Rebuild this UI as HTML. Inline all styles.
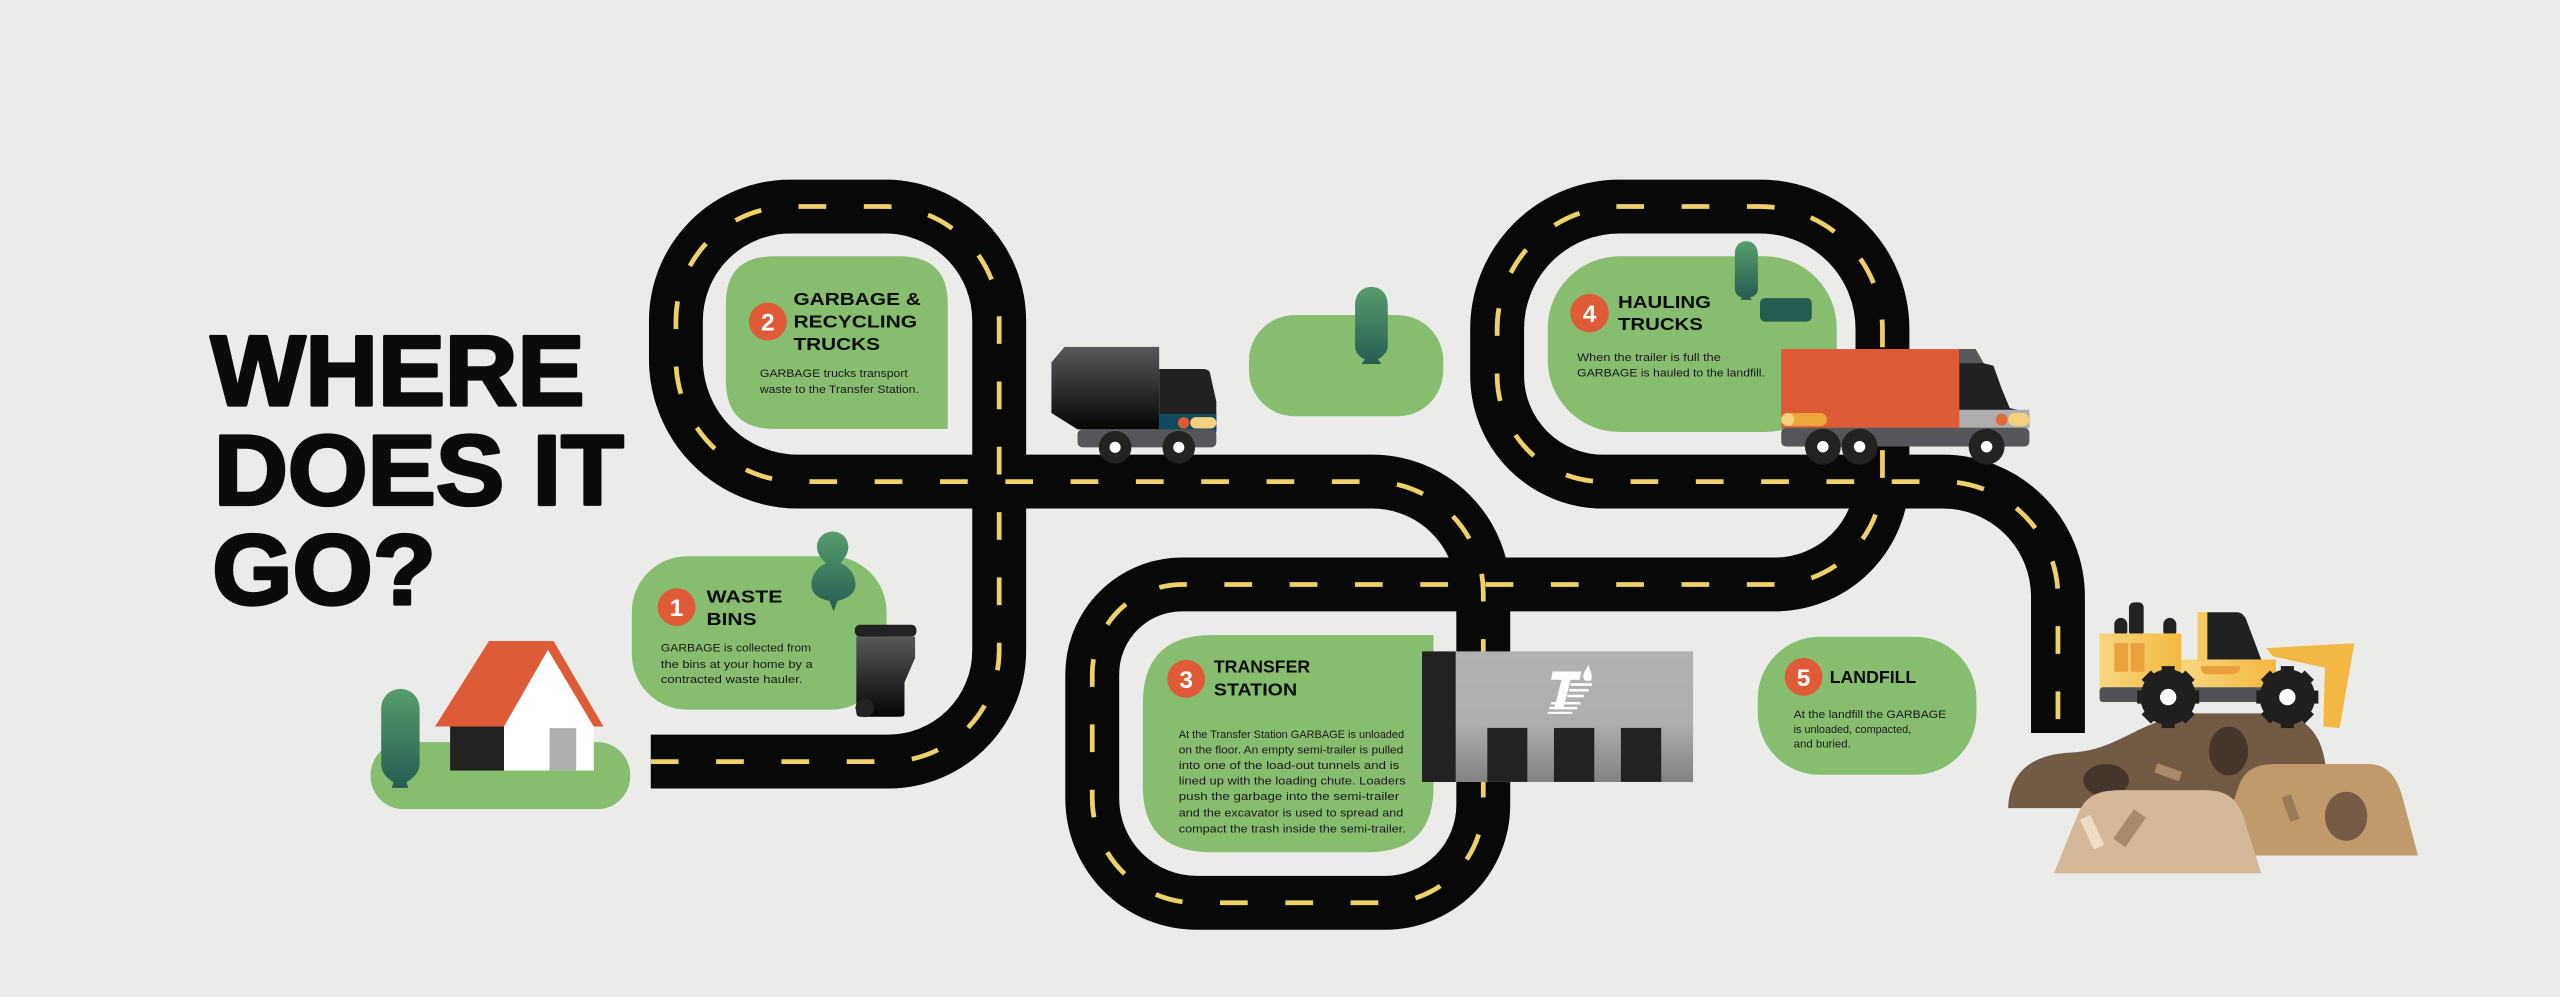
<!DOCTYPE html>
<html><head><meta charset="utf-8"><style>
html,body{margin:0;padding:0;background:#ebecea;}
svg{display:block;}
.h{font-family:"Liberation Sans",sans-serif;font-weight:bold;fill:#0b0b0b;}
.t{font-family:"Liberation Sans",sans-serif;fill:#1a1a1a;font-size:6.6px;}
.n{font-family:"Liberation Sans",sans-serif;font-weight:bold;fill:#fff;font-size:15px;text-anchor:middle;}
</style></head><body>
<svg width="2560" height="997" viewBox="0 0 1568 610.7" preserveAspectRatio="none" xmlns="http://www.w3.org/2000/svg">
<defs>
<linearGradient id="tree" x1="0" y1="0" x2="0" y2="1"><stop offset="0" stop-color="#579d6d"/><stop offset="1" stop-color="#265c53"/></linearGradient>
<linearGradient id="dark" x1="0" y1="0" x2="0" y2="1"><stop offset="0" stop-color="#58595b"/><stop offset="1" stop-color="#050505"/></linearGradient>
<linearGradient id="bld" x1="0" y1="0" x2="0" y2="1"><stop offset="0" stop-color="#b0b1b0"/><stop offset="0.55" stop-color="#adaead"/><stop offset="1" stop-color="#828282"/></linearGradient>
<linearGradient id="yel" x1="0" y1="0" x2="1" y2="0"><stop offset="0" stop-color="#f8d67f"/><stop offset="1" stop-color="#f3b840"/></linearGradient>
</defs>
<rect width="1568" height="610.7" fill="#ebecea"/>

<!-- title -->
<g stroke="#0b0b0b" stroke-width="2" stroke-linejoin="round">
<text class="h" x="129" y="248" font-size="61" textLength="229" lengthAdjust="spacingAndGlyphs">WHERE</text>
<text class="h" x="131" y="309" font-size="61" textLength="251" lengthAdjust="spacingAndGlyphs">DOES IT</text>
<text class="h" x="130" y="370" font-size="61" textLength="137" lengthAdjust="spacingAndGlyphs">GO?</text>
</g>

<!-- green boxes -->
<path d="M474,157 H551 Q580.5,157 580.5,186 V262.7 H474 Q444.6,262.7 444.6,233 V186 Q444.6,157 474,157 Z" fill="#86bd6f"/>
<rect x="765" y="193" width="119" height="62" rx="28" fill="#86bd6f"/>
<rect x="948" y="157" width="177" height="107.6" rx="44" fill="#86bd6f"/>
<rect x="387" y="340.7" width="156" height="94" rx="34" fill="#86bd6f"/>
<rect x="227" y="454.6" width="159" height="41" rx="20" fill="#86bd6f"/>
<path d="M742,389 H878 V482 Q878,522 838,522 H742 Q700,522 700,482 V431 Q700,389 742,389 Z" fill="#86bd6f"/>
<rect x="1076.6" y="390" width="134" height="84.6" rx="38" fill="#86bd6f"/>

<!-- roads -->
<g fill="none" stroke="#070807" stroke-width="33" stroke-linecap="butt" stroke-linejoin="round">
<path d="M398.6,466.5 H544 A68,68 0 0 0 612,398.5 V196.5 A70,70 0 0 0 542,126.5 H484 A70,70 0 0 0 414,196.5 V220 A75,75 0 0 0 489,295 H840 A68,68 0 0 1 908.5,363 V493 A60,60 0 0 1 848.5,553 H733 A64,64 0 0 1 669,489 V413 A55,55 0 0 1 724,358 H1087 A66,66 0 0 0 1153,292 V201.5 A75,75 0 0 0 1078,126.5 H992 A75,75 0 0 0 917,201.5 V230 A65,65 0 0 0 982,295 H1190 A70.5,70.5 0 0 1 1260.5,365.5 V449"/>
</g>
<g fill="none" stroke="#f0d169" stroke-width="2.9" stroke-dasharray="17 23">
<path d="M398.6,466.5 H544 A68,68 0 0 0 612,398.5 V196.5 A70,70 0 0 0 542,126.5 H484 A70,70 0 0 0 414,196.5 V220 A75,75 0 0 0 489,295 H840 A68,68 0 0 1 908.5,363 V493 A60,60 0 0 1 848.5,553 H733 A64,64 0 0 1 669,489 V413 A55,55 0 0 1 724,358 H1087 A66,66 0 0 0 1153,292 V201.5 A75,75 0 0 0 1078,126.5 H992 A75,75 0 0 0 917,201.5 V230 A65,65 0 0 0 982,295 H1190 A70.5,70.5 0 0 1 1260.5,365.5 V449"/>
</g>

<!-- box 2 text -->
<circle cx="470.3" cy="197" r="11.6" fill="#df5b37"/>
<text class="n" x="470.3" y="202.5">2</text>
<text class="h" x="486" y="186.8" font-size="10.8" textLength="78" lengthAdjust="spacingAndGlyphs">GARBAGE &amp;</text>
<text class="h" x="486" y="200.6" font-size="10.8" textLength="75.7" lengthAdjust="spacingAndGlyphs">RECYCLING</text>
<text class="h" x="486" y="214.4" font-size="10.8" textLength="53" lengthAdjust="spacingAndGlyphs">TRUCKS</text>
<text class="t" x="465.4" y="230.9" textLength="90.6" lengthAdjust="spacingAndGlyphs">GARBAGE trucks transport</text>
<text class="t" x="465.4" y="240.7" textLength="97.4" lengthAdjust="spacingAndGlyphs">waste to the Transfer Station.</text>

<!-- box 1 text -->
<circle cx="414.4" cy="371.9" r="11.6" fill="#df5b37"/>
<text class="n" x="414.4" y="377.4">1</text>
<text class="h" x="432.7" y="369" font-size="10.8" textLength="46.6" lengthAdjust="spacingAndGlyphs">WASTE</text>
<text class="h" x="432.7" y="382.7" font-size="10.8" textLength="30.7" lengthAdjust="spacingAndGlyphs">BINS</text>
<text class="t" x="404.8" y="399" textLength="92" lengthAdjust="spacingAndGlyphs">GARBAGE is collected from</text>
<text class="t" x="404.8" y="409.3" textLength="93" lengthAdjust="spacingAndGlyphs">the bins at your home by a</text>
<text class="t" x="404.8" y="418.5" textLength="86.7" lengthAdjust="spacingAndGlyphs">contracted waste hauler.</text>

<!-- box 3 text -->
<circle cx="726.5" cy="415.8" r="11.6" fill="#df5b37"/>
<text class="n" x="726.5" y="421.3">3</text>
<text class="h" x="743.5" y="412" font-size="10.8" textLength="59" lengthAdjust="spacingAndGlyphs">TRANSFER</text>
<text class="h" x="743.5" y="426" font-size="10.8" textLength="51" lengthAdjust="spacingAndGlyphs">STATION</text>
<g class="t">
<text x="722" y="452" textLength="138" lengthAdjust="spacingAndGlyphs">At the Transfer Station GARBAGE is unloaded</text>
<text x="722" y="461.5" textLength="137.5" lengthAdjust="spacingAndGlyphs">on the floor. An empty semi-trailer is pulled</text>
<text x="722" y="471" textLength="135" lengthAdjust="spacingAndGlyphs">into one of the load-out tunnels and is</text>
<text x="722" y="480.5" textLength="139" lengthAdjust="spacingAndGlyphs">lined up with the loading chute.  Loaders</text>
<text x="722" y="490" textLength="135" lengthAdjust="spacingAndGlyphs">push the garbage into the semi-trailer</text>
<text x="722" y="500" textLength="137.5" lengthAdjust="spacingAndGlyphs">and the excavator is used to spread and</text>
<text x="722" y="510" textLength="139" lengthAdjust="spacingAndGlyphs">compact the trash inside the semi-trailer.</text>
</g>

<!-- box 4 text -->
<circle cx="973.6" cy="191.8" r="11.8" fill="#df5b37"/>
<text class="n" x="973.6" y="197.3">4</text>
<text class="h" x="991" y="188.6" font-size="10.8" textLength="57" lengthAdjust="spacingAndGlyphs">HAULING</text>
<text class="h" x="991" y="202" font-size="10.8" textLength="52" lengthAdjust="spacingAndGlyphs">TRUCKS</text>
<text class="t" x="966" y="221" textLength="88" lengthAdjust="spacingAndGlyphs">When the trailer is full the</text>
<text class="t" x="966" y="230.6" textLength="115" lengthAdjust="spacingAndGlyphs">GARBAGE is hauled to the landfill.</text>

<!-- box 5 text -->
<circle cx="1104.7" cy="414.6" r="11.6" fill="#df5b37"/>
<text class="n" x="1104.7" y="420.1">5</text>
<text class="h" x="1120.7" y="418.3" font-size="10.8" textLength="53" lengthAdjust="spacingAndGlyphs">LANDFILL</text>
<text class="t" x="1098.6" y="439.7" textLength="93.5" lengthAdjust="spacingAndGlyphs">At the landfill the GARBAGE</text>
<text class="t" x="1098.6" y="449" textLength="72" lengthAdjust="spacingAndGlyphs">is unloaded, compacted,</text>
<text class="t" x="1098.6" y="458" textLength="35" lengthAdjust="spacingAndGlyphs">and buried.</text>

<!-- trees -->
<path d="M840,175.7 C846,175.7 850,180 850,187 V212 C850,216 846,219 844,220 L846,223 H834 L836,220 C833,219 830,216 830,212 V187 C830,180 834,175.7 840,175.7 Z" fill="url(#tree)"/>
<path d="M1069.6,147.8 C1074,147.8 1076.7,151 1076.7,156 V177 C1076.7,180 1074,182 1072,182 L1073,183.7 H1066 L1067,182 C1065,182 1062.6,180 1062.6,177 V156 C1062.6,151 1065,147.8 1069.6,147.8 Z" fill="url(#tree)"/>
<rect x="1078" y="182.6" width="31.7" height="14.4" rx="3" fill="#245c52"/>
<path d="M245.2,422 C251.5,422 257,427 257,434 V468 C257,473 253,477 249,479 L250,482.6 H240 L241,479 C237,477 233.5,473 233.5,468 V434 C233.5,427 239,422 245.2,422 Z" fill="url(#tree)"/>
<path d="M510,325.6 C515.5,325.6 519.6,330 519.6,335 C519.6,340 516,343 515,345 C520,347 524,352 524,358 C524,364 518,367 513,368 L510.6,374.6 L508,368 C502,367 497,364 497,358 C497,352 501,347 506,345 C504,343 500.4,340 500.4,335 C500.4,330 504.5,325.6 510,325.6 Z" fill="url(#tree)"/>

<!-- house -->
<polygon points="266.5,445 299.5,392.6 339,392.6 369.6,445" fill="#de5b37"/>
<polygon points="308.7,445 335.6,398 363.6,445" fill="#fff"/>
<rect x="308.7" y="445" width="55" height="27" fill="#fff"/>
<rect x="275.7" y="445" width="33" height="27" fill="#222"/>
<rect x="336.6" y="446" width="16.3" height="26" fill="#aeaeae"/>

<!-- bin -->
<rect x="523.6" y="382.7" width="37.7" height="7.3" rx="3" fill="#222"/>
<path d="M524.5,390 H560.5 V403 L554,418 V437 Q554,439 552,439 H527 Q524.5,439 524.5,436 Z" fill="url(#dark)"/>
<circle cx="529.7" cy="433.6" r="5.7" fill="#222"/>

<!-- garbage truck -->
<path d="M652,212.5 H710 V263 H660 L644,253 V222 Z" fill="url(#dark)"/>
<path d="M710,226 H737 Q740,226 741,228 L745,246 V264.5 H710 Z" fill="#212121"/>
<rect x="710" y="253.5" width="35" height="11" fill="#0f4a5e"/>
<circle cx="725" cy="259" r="3.5" fill="#df5b37"/>
<rect x="729" y="255.5" width="16" height="7" rx="3.5" fill="#f7d07f"/>
<rect x="660" y="263" width="85" height="11" rx="3" fill="#555659"/>
<circle cx="683" cy="274" r="10" fill="#222"/><circle cx="683" cy="274" r="3.4" fill="#fff"/>
<circle cx="722" cy="274" r="10" fill="#222"/><circle cx="722" cy="274" r="3.4" fill="#fff"/>

<!-- hauling truck -->
<rect x="1091" y="213.8" width="109" height="48.5" fill="#de5b37"/>
<path d="M1200,213.8 H1210 L1215,222.5 L1221,224 L1226,238 L1231,250 L1240,252 L1243,255 V262 H1200 Z" fill="#212121"/>
<path d="M1200,213.8 H1210 L1215,222.5 H1200 Z" fill="#58595b"/>
<rect x="1200" y="251" width="43" height="11" fill="#aeaeae"/>
<circle cx="1226" cy="257" r="3.6" fill="#df6a37"/>
<rect x="1230" y="253" width="13" height="8" rx="4" fill="#f7d07f"/>
<rect x="1091" y="253" width="28" height="8" rx="4" fill="#eba63c"/>
<circle cx="1095" cy="257" r="4" fill="#f7d07f"/>
<rect x="1091" y="262" width="152" height="11.5" rx="3" fill="#555659"/>
<circle cx="1116.5" cy="273.6" r="11" fill="#222"/><circle cx="1116.5" cy="273.6" r="3.5" fill="#fff"/>
<circle cx="1139" cy="273.6" r="11" fill="#222"/><circle cx="1139" cy="273.6" r="3.5" fill="#fff"/>
<circle cx="1216.8" cy="273.6" r="11" fill="#222"/><circle cx="1216.8" cy="273.6" r="3.5" fill="#fff"/>

<!-- building -->
<rect x="891" y="399" width="146" height="80" fill="url(#bld)"/>
<rect x="871" y="399" width="20.6" height="80" fill="#222"/>
<rect x="911" y="445.9" width="24.5" height="33" fill="#222"/>
<rect x="951.8" y="445.9" width="24.7" height="33" fill="#222"/>
<rect x="992.8" y="445.9" width="24.7" height="33" fill="#222"/>
<g fill="#fff">
<polygon points="951,411.3 968.6,411.3 967.5,416.4 962,416.4 957.5,434 952,434 956.5,416.4 950,416.4"/>
<path d="M971,417 C968,414 971,411 973,407 C973,410 976,412 974.5,417 Z"/>
<rect x="962" y="418.5" width="13" height="1.6"/>
<rect x="961" y="422" width="12" height="1.6"/>
<rect x="960" y="425.5" width="10" height="1.6"/>
<rect x="950" y="430" width="18" height="1.5"/>
<rect x="949" y="433" width="17" height="1.5"/>
<rect x="948" y="436" width="15" height="1.3"/>
</g>

<!-- landfill mounds -->
<path d="M1230,495 C1231,470 1248,462 1268,461 C1298,460 1310,440 1345,437 L1395,437 C1420,440 1425,460 1425,480 V495 Z" fill="#725b45"/>
<ellipse cx="1290" cy="478" rx="14" ry="10" fill="#45352b"/>
<ellipse cx="1365" cy="460" rx="12" ry="15" fill="#45352b"/>
<rect x="1320" y="470" width="16" height="6" fill="#a98a68" transform="rotate(20 1328 473)"/>
<path d="M1357,524 L1371,482 C1375,471 1382,468 1395,468 L1450,468 C1462,468 1468,475 1472,490 L1481,524 Z" fill="#c19a6c"/>
<ellipse cx="1437" cy="500" rx="13" ry="15" fill="#755b46"/>
<rect x="1400" y="487" width="6" height="16" fill="#9b7a58" transform="rotate(-20 1403 495)"/>
<path d="M1258,535 L1273,498 C1278,487 1285,484 1300,484 L1350,484 C1365,484 1370,490 1374,500 L1385,535 Z" fill="#d4b898"/>
<rect x="1300" y="496" width="9" height="22" fill="#a98a68" transform="rotate(35 1304 507)"/>
<rect x="1278" y="500" width="7" height="20" fill="#efdcc4" transform="rotate(-25 1281 510)"/>

<!-- bulldozer -->
<rect x="1295" y="378.5" width="8" height="12" rx="4" fill="#222"/>
<rect x="1304" y="369" width="9" height="21" rx="3" fill="#222"/>
<rect x="1325" y="378.5" width="8" height="12" rx="4" fill="#222"/>
<polygon points="1388,397 1442,394 1433,446 1423,445 1424,409 1392,402" fill="#f2b843"/>
<rect x="1286" y="388" width="50" height="33" fill="url(#yel)"/>
<rect x="1336" y="404" width="58" height="17" fill="url(#yel)"/>
<rect x="1346" y="375" width="6" height="30" fill="#f6c860"/>
<path d="M1352,375 H1370 Q1374,375 1376,380 L1385,404 H1352 Z" fill="#212121"/>
<rect x="1295" y="394" width="8.5" height="17.5" fill="#eba03b"/>
<rect x="1305" y="394" width="8.5" height="17.5" fill="#eba03b"/>
<path d="M1348,408 H1372 Q1372,413 1366,413 H1352 Q1348,413 1348,408 Z" fill="#eba03b"/>
<rect x="1286" y="421" width="108" height="9" rx="2" fill="#515256"/>
<g fill="#1f1f1f">
<circle cx="1328" cy="427" r="17"/>
<rect x="1324" y="408" width="8" height="38"/><rect x="1309" y="423" width="38" height="8"/>
<rect x="1324" y="408" width="8" height="38" transform="rotate(45 1328 427)"/><rect x="1324" y="408" width="8" height="38" transform="rotate(-45 1328 427)"/>
<circle cx="1401" cy="427" r="17"/>
<rect x="1397" y="408" width="8" height="38"/><rect x="1382" y="423" width="38" height="8"/>
<rect x="1397" y="408" width="8" height="38" transform="rotate(45 1401 427)"/><rect x="1397" y="408" width="8" height="38" transform="rotate(-45 1401 427)"/>
</g>
<circle cx="1328" cy="427" r="5" fill="#fff"/>
<circle cx="1401" cy="427" r="5" fill="#fff"/>
</svg>
</body></html>
